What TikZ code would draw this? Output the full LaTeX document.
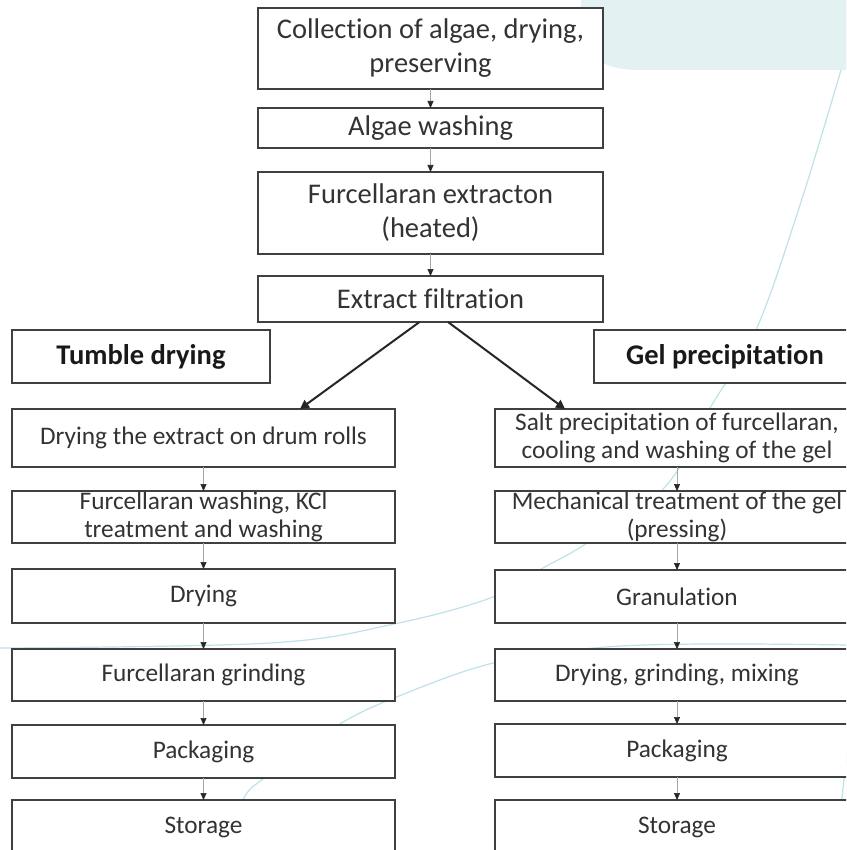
\documentclass[tikz,border=0pt]{standalone}
\usepackage{fontspec}
\setmainfont{Carlito}[RawFeature={-liga}]
\usetikzlibrary{arrows.meta,calc}
\definecolor{decofill}{HTML}{E3F1F3}
\definecolor{decoline}{HTML}{BDE3E8}
\definecolor{boxline}{HTML}{404040}
\definecolor{txt}{HTML}{333333}
\begin{document}
\begin{tikzpicture}[x=1pt,y=-1pt,
  box/.style={draw=boxline,line width=1.5pt,fill=white,inner sep=0pt,outer sep=0pt,
    align=center,text=txt},
  mainbox/.style={box,minimum width=345pt,font=\fontsize{28.5}{34}\selectfont},
  colbox/.style={box,font=\fontsize{25.3}{28.5}\selectfont},
  leftbox/.style={colbox,minimum width=383pt},
  rightbox/.style={colbox,minimum width=364pt},
  headbox/.style={box,minimum height=53pt,text=black!90,font=\fontsize{28.5}{34}\selectfont\bfseries},
  thinarrow/.style={draw=gray!70,line width=0.7pt,-{Triangle[width=6pt,length=7pt,color=black!85]}},
  bigarrow/.style={draw=black!85,line width=2pt,-{Triangle[width=9pt,length=9pt]}},
  deco/.style={draw=decoline,line width=1.2pt}
]
\useasboundingbox (0,0) rectangle (846,850);
\clip (0,0) rectangle (846,850);
\fill[white] (0,0) rectangle (846,850);
% background decoration
\fill[decofill] (581,-2) -- (581,20) .. controls (581,55) and (600,70) .. (640,70) -- (848,70) -- (848,-2) -- cycle;
\draw[deco] plot[smooth,tension=0.6] coordinates {(841,70) (800,205) (756,330) (710,408) (665,487) (587,543) (543,568) (493,597) (394,624) (270,643) (0,648)};
\draw[deco] plot[smooth,tension=0.6] coordinates {(848,645) (700,644) (594,648) (493,663) (394,698) (335,727) (264,778) (243,800) (225,852)};
\draw[deco] (852,700) .. controls (846,760) and (842,800) .. (836,852);
% main column
\node[mainbox,minimum height=81pt] (b1) at (430.5,48.5) {Collection of algae, drying,\\preserving};
\node[mainbox,minimum height=40pt] (b2) at (430.5,128) {Algae washing};
\node[mainbox,minimum height=82pt] (b3) at (430.5,213) {Furcellaran extracton\\(heated)};
\node[mainbox,minimum height=46pt] (b4) at (430.5,299) {Extract filtration};
% headers
\node[headbox,minimum width=258pt] (td) at (141,356.5) {Tumble drying};
\node[headbox,minimum width=262pt] (gp) at (725,356.5) {Gel precipitation};
% left column
\node[leftbox,minimum height=58pt] (l1) at (203.5,438) {Drying the extract on drum rolls};
\node[leftbox,minimum height=52pt] (l2) at (203.5,517) {Furcellaran washing, KCl\\treatment and washing};
\node[leftbox,minimum height=54pt] (l3) at (203.5,596) {Drying};
\node[leftbox,minimum height=52pt] (l4) at (203.5,675) {Furcellaran grinding};
\node[leftbox,minimum height=53pt] (l5) at (203.5,751.5) {Packaging};
\node[leftbox,minimum height=54pt] (l6) at (203.5,827) {Storage};
% right column
\node[rightbox,minimum height=58pt] (r1) at (677,438) {Salt precipitation of furcellaran,\\cooling and washing of the gel};
\node[rightbox,minimum height=52pt] (r2) at (677,517) {Mechanical treatment of the gel\\(pressing)};
\node[rightbox,minimum height=53pt] (r3) at (677,596.5) {Granulation};
\node[rightbox,minimum height=52pt] (r4) at (677,675) {Drying, grinding, mixing};
\node[rightbox,minimum height=53pt] (r5) at (677,750.5) {Packaging};
\node[rightbox,minimum height=54pt] (r6) at (677,827) {Storage};
% arrows
\draw[thinarrow] (b1) -- (b2);
\draw[thinarrow] (b2) -- (b3);
\draw[thinarrow] (b3) -- (b4);
\draw[bigarrow] ($(b4.south)+(-11,0)$) -- ($(l1.north)+(96.5,0)$);
\draw[bigarrow] ($(b4.south)+(17.5,0)$) -- ($(r1.north)+(-112,0)$);
\draw[thinarrow] (l1) -- (l2);
\draw[thinarrow] (l2) -- (l3);
\draw[thinarrow] (l3) -- (l4);
\draw[thinarrow] (l4) -- (l5);
\draw[thinarrow] (l5) -- (l6);
\draw[thinarrow] (r1) -- (r2);
\draw[thinarrow] (r2) -- (r3);
\draw[thinarrow] (r3) -- (r4);
\draw[thinarrow] (r4) -- (r5);
\draw[thinarrow] (r5) -- (r6);
\end{tikzpicture}
\end{document}
